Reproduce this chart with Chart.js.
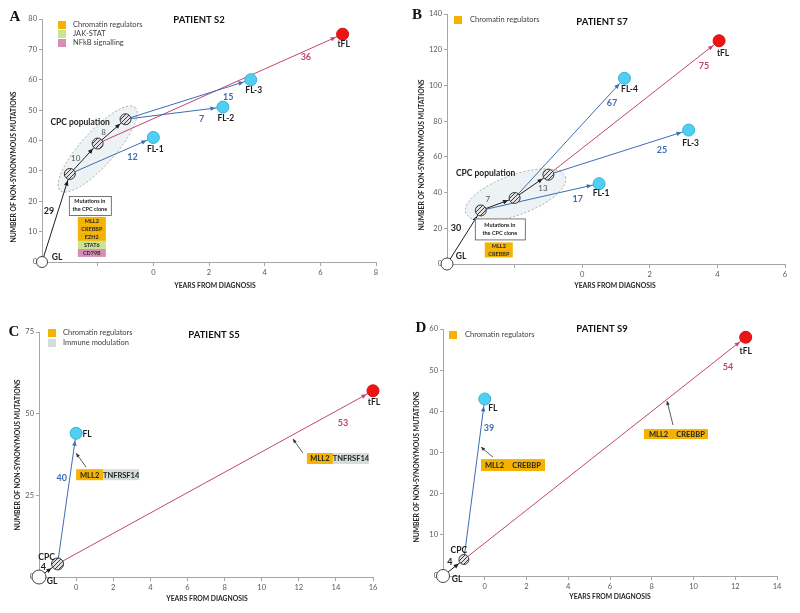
<!DOCTYPE html>
<html>
<head>
<meta charset="utf-8">
<script src="https://cdn.jsdelivr.net/npm/chart.js@4.4.0/dist/chart.umd.min.js"></script>
<style>
body { margin: 0; background: #fff; width: 800px; height: 613px; position: relative; overflow: hidden; }
canvas { position: absolute; }
</style>
</head>
<body>
<canvas id="cA" width="400" height="300" style="left:0;top:0"></canvas>
<canvas id="cB" width="400" height="300" style="left:400px;top:0"></canvas>
<canvas id="cC" width="400" height="313" style="left:0;top:300px"></canvas>
<canvas id="cD" width="400" height="313" style="left:400px;top:300px"></canvas>
<script>
// ---- データ ----
// 患者 S2
const s2Names = ['GL', '', '', '', 'FL-1', 'FL-2', 'FL-3', 'tFL'];
const s2Types = ['gl', 'cpc', 'cpc', 'cpc', 'fl', 'fl', 'fl', 'tfl'];
const s2Years = [-4, -3, -2, -1, 0, 2.5, 3.5, 6.8];
const s2Counts = [0, 29, 39, 47, 41, 51, 60, 75];
const s2EdgeFrom = [0, 1, 2, 1, 3, 3, 2];
const s2EdgeTo = [1, 2, 3, 4, 5, 6, 7];
const s2EdgeMuts = [29, 10, 8, 12, 7, 15, 36];
const s2Legend = ['Chromatin regulators', 'JAK-STAT', 'NFkB signalling'];
const s2LegendGroups = ['chromatin', 'jak', 'nfkb'];
const s2CloneGenes = ['MLL2', 'CREBBP', 'EZH2', 'STAT6', 'CD79B'];
const s2CloneGroups = ['chromatin', 'chromatin', 'chromatin', 'jak', 'nfkb'];

// 患者 S7
const s7Names = ['GL', '', '', '', 'FL-1', 'FL-4', 'FL-3', 'tFL'];
const s7Types = ['gl', 'cpc', 'cpc', 'cpc', 'fl', 'fl', 'fl', 'tfl'];
const s7Years = [-4, -3, -2, -1, 0.5, 1.25, 3.15, 4.05];
const s7Counts = [0, 30, 37, 50, 45, 104, 75, 125];
const s7EdgeFrom = [0, 1, 2, 1, 2, 3, 3];
const s7EdgeTo = [1, 2, 3, 4, 5, 6, 7];
const s7EdgeMuts = [30, 7, 13, 17, 67, 25, 75];
const s7Legend = ['Chromatin regulators'];
const s7LegendGroups = ['chromatin'];
const s7CloneGenes = ['MLL2', 'CREBBP'];
const s7CloneGroups = ['chromatin', 'chromatin'];

// 患者 S5
const s5Names = ['GL', 'CPC', 'FL', 'tFL'];
const s5Types = ['gl', 'cpc', 'fl', 'tfl'];
const s5Years = [-2, -1, 0, 16];
const s5Counts = [0, 4, 44, 57];
const s5EdgeFrom = [0, 1, 1];
const s5EdgeTo = [1, 2, 3];
const s5EdgeMuts = [4, 40, 53];
const s5Legend = ['Chromatin regulators', 'Immune modulation'];
const s5LegendGroups = ['chromatin', 'immune'];
const s5BranchGenes = ['MLL2', 'TNFRSF14'];
const s5BranchGroups = ['chromatin', 'immune'];

// 患者 S9
const s9Names = ['GL', 'CPC', 'FL', 'tFL'];
const s9Types = ['gl', 'cpc', 'fl', 'tfl'];
const s9Years = [-2, -1, 0, 12.5];
const s9Counts = [0, 4, 43, 58];
const s9EdgeFrom = [0, 1, 1];
const s9EdgeTo = [1, 2, 3];
const s9EdgeMuts = [4, 39, 54];
const s9Legend = ['Chromatin regulators'];
const s9LegendGroups = ['chromatin'];
const s9BranchGenes = ['MLL2', 'CREBBP'];
const s9BranchGroups = ['chromatin', 'chromatin'];

// ---- スタイル ----
const FONT = 'Lato, "Open Sans", sans-serif';
const GROUP_COLORS = { chromatin: '#f5b301', jak: '#c8e68f', nfkb: '#d98db5', immune: '#d5dcdc' };
const EDGE_COLORS = { cpc: '#1e1e1e', fl: '#3d6cb3', tfl: '#c4456e' };
const LABEL_COLORS = { cpc: '#555555', fl: '#3d6cb3', tfl: '#b8456b' };

// 斜線パターン(CPC用)
function makeHatch() {
    const c = document.createElement('canvas');
    c.width = 4; c.height = 4;
    const g = c.getContext('2d');
    g.fillStyle = '#e2e2e2';
    g.fillRect(0, 0, 4, 4);
    g.strokeStyle = '#3c3c3c';
    g.lineWidth = 1;
    g.beginPath();
    g.moveTo(-1, 5); g.lineTo(5, -1);
    g.moveTo(-1, 1); g.lineTo(1, -1);
    g.moveTo(3, 5); g.lineTo(5, 3);
    g.stroke();
    return g.createPattern(c, 'repeat');
}
const HATCH = makeHatch();
const NODE_FILL = { gl: '#ffffff', cpc: HATCH, fl: '#50cff1', tfl: '#ef1414' };
const NODE_BORDER = { gl: '#444444', cpc: '#3a3a3a', fl: '#35b3d8', tfl: '#cc0f0f' };

// パネルごとの設定
const panels = [
    {
        canvas: 'cA', letter: 'A', title: 'PATIENT S2',
        names: s2Names, types: s2Types, xs: s2Years, ys: s2Counts,
        from: s2EdgeFrom, to: s2EdgeTo, muts: s2EdgeMuts,
        legend: s2Legend, legendGroups: s2LegendGroups,
        xMin: -4, xMax: 8, xStep: 2, yMax: 80, yStep: 10,
        yW: 42, xH: 38, top: 19, right: 24,
        radius: { gl: 5.5, cpc: 5.5, fl: 6, tfl: 6 },
        nodeLab: [[15, -5], null, null, null, [2, 12], [3, 11], [3, 11], [1, 10]],
        edgeLab: [[0.5, -7, -7], [0.5, -8, 0], [0.5, -8, 1], [0.75, 0, 11], [0.78, 0, 9], [0.82, 0, 10], [0.85, 0, 7]],
        ellipse: { node: 2, dx: 0, dy: 5.5, rx: 56, ry: 17, rot: -48, lab: [-17.5, -27] },
        clone: { node: 1, box: [-1, 22, 42, 19], stack: [8, 43, 28, 8], genes: s2CloneGenes, groups: s2CloneGroups },
        legendPos: { sx: 58, y0: 25, dy: 9, tx: 73 },
        titlePos: [199, 20], letterPos: [15, 17], yTitle: [14, 167], xTitle: [215, 286]
    },
    {
        canvas: 'cB', letter: 'B', title: 'PATIENT S7',
        names: s7Names, types: s7Types, xs: s7Years, ys: s7Counts,
        from: s7EdgeFrom, to: s7EdgeTo, muts: s7EdgeMuts,
        legend: s7Legend, legendGroups: s7LegendGroups,
        xMin: -4, xMax: 6, xStep: 2, yMax: 140, yStep: 20,
        yW: 47, xH: 36, top: 14, right: 15,
        radius: { gl: 6, cpc: 5.5, fl: 6, tfl: 6 },
        nodeLab: [[14, -8], null, null, null, [2, 10], [5, 11], [2, 13], [4, 12]],
        edgeLab: [[0.5, -8, -9], [0.5, -10, -5], [0.5, 11.5, 2.5], [0.82, 0, 11], [0.886, 0, 11], [0.81, 0, 12], [0.912, 0, 14]],
        ellipse: { node: 2, dx: 1, dy: -3, rx: 53, ry: 20, rot: -20, lab: [-30, -22] },
        clone: { node: 1, box: [-6, 8, 50, 21], stack: [4, 32, 28, 7.5], genes: s7CloneGenes, groups: s7CloneGroups },
        legendPos: { sx: 54, y0: 20, dy: 9, tx: 70 },
        titlePos: [202, 22], letterPos: [17, 15], yTitle: [22, 155], xTitle: [215, 286]
    },
    {
        canvas: 'cC', letter: 'C', title: 'PATIENT S5',
        names: s5Names, types: s5Types, xs: s5Years, ys: s5Counts,
        from: s5EdgeFrom, to: s5EdgeTo, muts: s5EdgeMuts,
        legend: s5Legend, legendGroups: s5LegendGroups,
        xMin: -2, xMax: 16, xStep: 2, yMax: 75, yStep: 25,
        yW: 39, xH: 36, top: 32, right: 27,
        radius: { gl: 7, cpc: 6, fl: 6, tfl: 6 },
        nodeLab: [[13, 4], [-11, -7], [11, 1], [1, 11]],
        edgeLab: [[0.5, -5, -3], [0.656, -8, 0], [0.905, 0, 15.5]],
        branches: [
            { at: [0, 33], widths: [27, 36], h: 11, tail: [10, -2], tip: [0, -16], genes: s5BranchGenes, groups: s5BranchGroups },
            { at: [12.44, 37.95], widths: [26, 36], h: 11, tail: [-4, 0], tip: [-14, -14], genes: s5BranchGenes, groups: s5BranchGroups }
        ],
        legendPos: { sx: 48, y0: 33, dy: 10, tx: 63 },
        titlePos: [214, 35], letterPos: [14, 32], yTitle: [18, 155], xTitle: [207, 299]
    },
    {
        canvas: 'cD', letter: 'D', title: 'PATIENT S9',
        names: s9Names, types: s9Types, xs: s9Years, ys: s9Counts,
        from: s9EdgeFrom, to: s9EdgeTo, muts: s9EdgeMuts,
        legend: s9Legend, legendGroups: s9LegendGroups,
        xMin: -2, xMax: 14, xStep: 2, yMax: 60, yStep: 10,
        yW: 43, xH: 37, top: 29, right: 23,
        radius: { gl: 6.5, cpc: 5, fl: 6, tfl: 6 },
        nodeLab: [[14, 3], [-5, -9.5], [8, 9], [0, 14]],
        edgeLab: [[0.5, -3.5, -6], [0.82, 8, 0], [0.937, 0, 16]],
        branches: [
            { at: [-0.18, 28.4], widths: [27, 37], h: 12, tail: [12, -2], tip: [0, -12], genes: s9BranchGenes, groups: s9BranchGroups },
            { at: [7.63, 35.7], widths: [29, 35], h: 10, tail: [29, -4], tip: [23, -28], genes: s9BranchGenes, groups: s9BranchGroups }
        ],
        legendPos: { sx: 49, y0: 35, dy: 10, tx: 65 },
        titlePos: [202, 29], letterPos: [21, 28], yTitle: [17, 167], xTitle: [210, 297]
    }
];

// ノードのピクセル座標
function nodePx(chart, p, i) {
    return [chart.scales.x.getPixelForValue(p.xs[i]), chart.scales.y.getPixelForValue(p.ys[i])];
}

// 矢印の先端
function arrowHead(ctx, x0, y0, x1, y1, color, size) {
    const a = Math.atan2(y1 - y0, x1 - x0);
    ctx.save();
    ctx.translate(x1, y1);
    ctx.rotate(a);
    ctx.beginPath();
    ctx.moveTo(0, 0);
    ctx.lineTo(-size, -size * 0.45);
    ctx.lineTo(-size, size * 0.45);
    ctx.closePath();
    ctx.fillStyle = color;
    ctx.fill();
    ctx.restore();
}

// 装飾の描画プラグイン
function decoPlugin(p) {
    return {
        id: 'deco' + p.letter,
        beforeDatasetsDraw(chart) {
            const e = p.ellipse;
            if (!e) return;
            const ctx = chart.ctx;
            const [cx, cy] = nodePx(chart, p, e.node);
            ctx.save();
            ctx.translate(cx + e.dx, cy + e.dy);
            ctx.rotate(e.rot * Math.PI / 180);
            ctx.beginPath();
            ctx.ellipse(0, 0, e.rx, e.ry, 0, 0, Math.PI * 2);
            ctx.fillStyle = '#edf2f4';
            ctx.fill();
            ctx.setLineDash([2, 2]);
            ctx.strokeStyle = '#9c9c9c';
            ctx.lineWidth = 0.8;
            ctx.stroke();
            ctx.restore();
        },
        afterDatasetsDraw(chart) {
            const ctx = chart.ctx;
            ctx.save();
            ctx.textAlign = 'center';
            ctx.textBaseline = 'middle';
            // 矢印の先端と変異数ラベル
            p.from.forEach((f, i) => {
                const t = p.to[i];
                const kind = p.types[t];
                const [x0, y0] = nodePx(chart, p, f);
                const [x1, y1] = nodePx(chart, p, t);
                const len = Math.hypot(x1 - x0, y1 - y0);
                const r = p.radius[kind] + 1.5;
                const tx = x1 - (x1 - x0) / len * r;
                const ty = y1 - (y1 - y0) / len * r;
                arrowHead(ctx, x0, y0, tx, ty, EDGE_COLORS[kind], 5);
                const [lt, ldx, ldy] = p.edgeLab[i];
                const lx = x0 + (x1 - x0) * lt + ldx;
                const ly = y0 + (y1 - y0) * lt + ldy;
                if (p.types[f] === 'gl') {
                    ctx.fillStyle = '#1e1e1e';
                    ctx.font = 'bold 9px ' + FONT;
                } else if (kind === 'cpc') {
                    ctx.fillStyle = LABEL_COLORS.cpc;
                    ctx.font = '8px ' + FONT;
                } else {
                    ctx.fillStyle = LABEL_COLORS[kind];
                    ctx.font = 'bold 9px ' + FONT;
                }
                ctx.fillText(String(p.muts[i]), lx, ly);
            });
            // ノード名
            ctx.fillStyle = '#1e1e1e';
            ctx.font = 'bold 8.5px ' + FONT;
            p.names.forEach((name, i) => {
                const off = p.nodeLab[i];
                if (!name || !off) return;
                const [x, y] = nodePx(chart, p, i);
                ctx.fillText(name, x + off[0], y + off[1]);
            });
            // CPC population
            if (p.ellipse) {
                const [cx, cy] = nodePx(chart, p, p.ellipse.node);
                ctx.font = 'bold 8.5px ' + FONT;
                ctx.fillText('CPC population', cx + p.ellipse.dx + p.ellipse.lab[0], cy + p.ellipse.dy + p.ellipse.lab[1]);
            }
            // CPCクローンの変異
            if (p.clone) {
                const c = p.clone;
                const [nx, ny] = nodePx(chart, p, c.node);
                const [bx, by, bw, bh] = c.box;
                ctx.fillStyle = '#ffffff';
                ctx.fillRect(nx + bx, ny + by, bw, bh);
                ctx.strokeStyle = '#555555';
                ctx.lineWidth = 0.8;
                ctx.strokeRect(nx + bx + 0.5, ny + by + 0.5, bw, bh);
                ctx.fillStyle = '#222222';
                ctx.font = 'bold 5.5px ' + FONT;
                ctx.fillText('Mutations in', nx + bx + bw / 2, ny + by + bh * 0.3);
                ctx.fillText('the CPC clone', nx + bx + bw / 2, ny + by + bh * 0.72);
                const [sx, sy, sw, sh] = c.stack;
                c.genes.forEach((g, k) => {
                    ctx.fillStyle = GROUP_COLORS[c.groups[k]];
                    ctx.fillRect(nx + sx, ny + sy + k * sh, sw, sh);
                    ctx.fillStyle = '#2a2a2a';
                    ctx.font = 'bold 5.5px ' + FONT;
                    ctx.fillText(g, nx + sx + sw / 2, ny + sy + k * sh + sh / 2 + 0.5);
                });
            }
            // 枝ごとの変異
            (p.branches || []).forEach(b => {
                const bx = chart.scales.x.getPixelForValue(b.at[0]);
                const by = chart.scales.y.getPixelForValue(b.at[1]);
                let x = bx;
                b.genes.forEach((g, k) => {
                    ctx.fillStyle = GROUP_COLORS[b.groups[k]];
                    ctx.fillRect(x, by, b.widths[k], b.h);
                    ctx.fillStyle = '#1e1e1e';
                    ctx.font = 'bold 7.5px ' + FONT;
                    ctx.fillText(g, x + b.widths[k] / 2, by + b.h / 2 + 0.5);
                    x += b.widths[k];
                });
                const x0 = bx + b.tail[0], y0 = by + b.tail[1];
                const x1 = bx + b.tip[0], y1 = by + b.tip[1];
                ctx.strokeStyle = '#333333';
                ctx.lineWidth = 0.8;
                ctx.beginPath();
                ctx.moveTo(x0, y0);
                ctx.lineTo(x1, y1);
                ctx.stroke();
                arrowHead(ctx, x0, y0, x1, y1, '#333333', 4);
            });
            ctx.restore();
        },
        afterDraw(chart) {
            const ctx = chart.ctx;
            ctx.save();
            ctx.textBaseline = 'middle';
            // パネル記号
            ctx.textAlign = 'center';
            ctx.fillStyle = '#111111';
            ctx.font = 'bold 15px "Liberation Serif", serif';
            ctx.fillText(p.letter, p.letterPos[0], p.letterPos[1]);
            // タイトル
            ctx.font = 'bold 9.5px ' + FONT;
            ctx.fillText(p.title, p.titlePos[0], p.titlePos[1]);
            // 凡例
            const lp = p.legendPos;
            ctx.textAlign = 'left';
            ctx.font = '7.5px ' + FONT;
            p.legend.forEach((name, k) => {
                const y = lp.y0 + k * lp.dy;
                ctx.fillStyle = GROUP_COLORS[p.legendGroups[k]];
                ctx.fillRect(lp.sx, y - 4, 8, 8);
                ctx.fillStyle = '#404040';
                ctx.fillText(name, lp.tx, y);
            });
            // 軸タイトル
            ctx.textAlign = 'center';
            ctx.fillStyle = '#262626';
            ctx.font = 'bold 6.8px ' + FONT;
            ctx.fillText('YEARS FROM DIAGNOSIS', p.xTitle[0], p.xTitle[1]);
            ctx.translate(p.yTitle[0], p.yTitle[1]);
            ctx.rotate(-Math.PI / 2);
            ctx.fillText('NUMBER OF NON-SYNONYMOUS MUTATIONS', 0, 0);
            ctx.restore();
        }
    };
}

// パネルを作成
function createPanel(p) {
    const nodes = {
        data: p.xs.map((x, i) => ({ x: x, y: p.ys[i] })),
        showLine: false,
        pointRadius: p.types.map(t => p.radius[t]),
        pointBackgroundColor: p.types.map(t => NODE_FILL[t]),
        pointBorderColor: p.types.map(t => NODE_BORDER[t]),
        pointBorderWidth: 1,
        clip: false
    };
    const edges = p.from.map((f, i) => {
        const t = p.to[i];
        return {
            data: [{ x: p.xs[f], y: p.ys[f] }, { x: p.xs[t], y: p.ys[t] }],
            showLine: true,
            pointRadius: 0,
            borderColor: EDGE_COLORS[p.types[t]],
            borderWidth: 1,
            clip: false
        };
    });
    const tickFont = { family: FONT, size: 7.5 };
    new Chart(document.getElementById(p.canvas), {
        type: 'scatter',
        data: { datasets: [nodes].concat(edges) },
        options: {
            responsive: false,
            animation: false,
            events: [],
            layout: { padding: { left: 0, top: p.top, right: p.right, bottom: 0 } },
            plugins: { legend: { display: false }, tooltip: { enabled: false } },
            scales: {
                x: {
                    type: 'linear', min: p.xMin, max: p.xMax,
                    ticks: {
                        stepSize: p.xStep, color: '#595959', font: tickFont, padding: 2,
                        maxRotation: 0, autoSkip: false,
                        callback: v => (v >= 0 ? v : '')
                    },
                    grid: { drawOnChartArea: false, tickLength: 4, color: '#a6a6a6' },
                    border: { color: '#a6a6a6' },
                    afterFit(s) { s.height = p.xH; s.paddingLeft = 0; s.paddingRight = 0; }
                },
                y: {
                    type: 'linear', min: 0, max: p.yMax,
                    ticks: { stepSize: p.yStep, color: '#595959', font: tickFont, padding: 2 },
                    grid: { drawOnChartArea: false, tickLength: 3, color: '#a6a6a6' },
                    border: { color: '#a6a6a6' },
                    afterFit(s) { s.width = p.yW; s.paddingTop = 0; s.paddingBottom = 0; }
                }
            }
        },
        plugins: [decoPlugin(p)]
    });
}

panels.forEach(createPanel);
</script>
</body>
</html>
